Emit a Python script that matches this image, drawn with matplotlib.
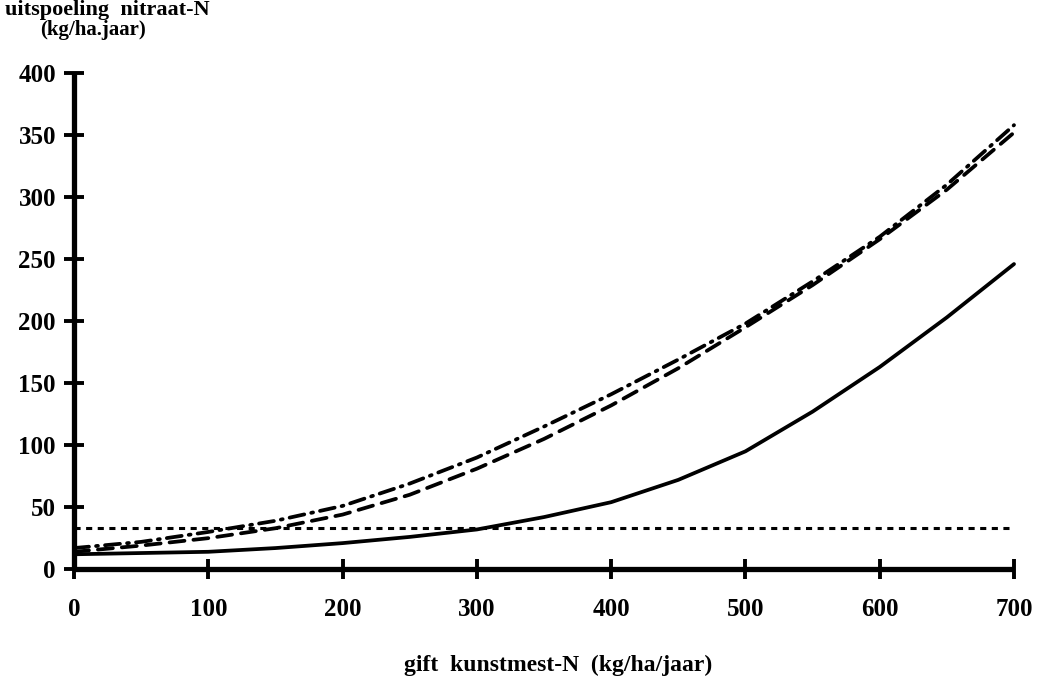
import matplotlib
matplotlib.use("Agg")
import matplotlib.pyplot as plt

x_gift = [0, 50, 100, 150, 200, 250, 300, 350, 400, 450, 500, 550, 600, 650, 700]
solid_vals = [12, 13, 14, 17, 21, 26, 32, 42, 54, 72, 95, 127, 163, 203, 246]
dashed_vals = [14, 19, 25, 33, 44, 60, 81, 105, 132, 162, 195, 229, 266, 306, 352]
dashdot_vals = [17, 22, 30, 39, 51, 69, 90, 115, 141, 169, 198, 232, 268, 310, 358]
norm_vals = [33, 33]
norm_x = [0, 700]

xticks = [0, 100, 200, 300, 400, 500, 600, 700]
yticks = [0, 50, 100, 150, 200, 250, 300, 350, 400]

plt.rcParams['font.family'] = ['Liberation Serif', 'DejaVu Serif']

fig = plt.figure(figsize=(10.47, 6.8), dpi=100)
ax = fig.add_axes([0.0707, 0.163, 0.8978, 0.7296])

lw = 2.7
ax.plot(x_gift, solid_vals, color='black', lw=lw, solid_capstyle='round', clip_on=False)
ax.plot(x_gift, dashed_vals, color='black', lw=lw, linestyle=(0, (4.0, 2.4)),
        dash_capstyle='round', clip_on=False)
ax.plot(x_gift, dashdot_vals, color='black', lw=lw, linestyle=(0, (4.0, 1.9, 0.5, 1.9)),
        dash_capstyle='round', clip_on=False)
ax.plot(norm_x, norm_vals, color='black', lw=2.2, linestyle=(0, (2.0, 1.8)),
        clip_on=False)

ax.set_xlim(0, 700)
ax.set_ylim(0, 400)
for s in ['top', 'right']:
    ax.spines[s].set_visible(False)
for s in ['left', 'bottom']:
    ax.spines[s].set_linewidth(3.8)
    ax.spines[s].set_capstyle('butt')

ax.set_xticks(xticks)
ax.set_yticks(yticks)
ax.set_xticklabels([str(v) for v in xticks])
ax.set_yticklabels([str(v) for v in yticks])
ax.tick_params(axis='both', direction='inout', length=14, width=2.8, color='black',
               labelsize=18)
ax.tick_params(axis='x', pad=14)
ax.tick_params(axis='y', pad=6)
for lab in ax.get_xticklabels() + ax.get_yticklabels():
    lab.set_fontweight('bold')

fig.text(0.005, 0.985, 'uitspoeling  nitraat-N', fontsize=16, fontweight='bold',
         ha='left', va='center')
fig.text(0.038, 0.956, '(kg/ha.jaar)', fontsize=15, fontweight='bold',
         ha='left', va='center')
fig.text(0.533, 0.022, 'gift  kunstmest-N  (kg/ha/jaar)', fontsize=17, fontweight='bold',
         ha='center', va='center')

fig.savefig('out.png', dpi=100)
